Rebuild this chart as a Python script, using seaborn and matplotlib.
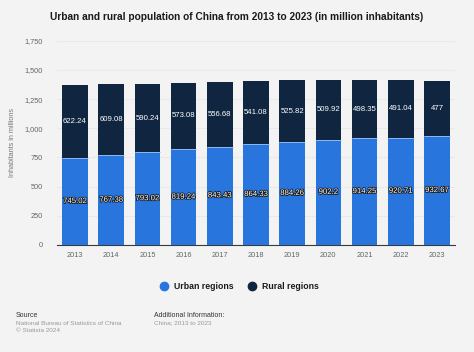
import numpy as np
import pandas as pd
import seaborn as sns
import matplotlib.pyplot as plt
import matplotlib.patheffects as pe
from matplotlib.lines import Line2D
from matplotlib.ticker import FuncFormatter

# data
years = ['2013', '2014', '2015', '2016', '2017', '2018', '2019', '2020', '2021', '2022', '2023']
urban = [745.02, 767.38, 793.02, 819.24, 843.43, 864.33, 884.26, 902.2, 914.25, 920.71, 932.67]
rural = [622.24, 609.08, 590.24, 573.08, 556.68, 541.08, 525.82, 509.92, 498.35, 491.04, 477]
y_ticks = [0, 250, 500, 750, 1000, 1250, 1500, 1750]

df = pd.DataFrame({'year': years, 'urban': urban, 'rural': rural})
df['total'] = df['urban'] + df['rural']

c_urban = '#2876dd'
c_rural = '#0f2540'
bg = '#f3f3f3'

sns.set_style('white')
plt.rcParams['font.family'] = ['Liberation Sans', 'DejaVu Sans']

fig = plt.figure(figsize=(4.74, 3.52), dpi=100, facecolor=bg)
ax = fig.add_axes([0.120, 0.304, 0.840, 0.580])
ax.set_facecolor(bg)

sns.barplot(data=df, x='year', y='total', color=c_rural, width=0.71,
            saturation=1, linewidth=0, ax=ax, zorder=2)
sns.barplot(data=df, x='year', y='urban', color=c_urban, width=0.71,
            saturation=1, linewidth=0, ax=ax, zorder=3)

# thin light seam between the segments
ax.hlines(df['urban'], np.arange(len(years)) - 0.355, np.arange(len(years)) + 0.355,
          color='#8fb8ee', lw=0.7, zorder=4)

stroke = [pe.withStroke(linewidth=1.2, foreground='#1a1a1a')]
for i, row in df.iterrows():
    ax.text(i, row['urban'] / 2, f"{row['urban']:g}", ha='center', va='center',
            color='white', fontsize=5.6, path_effects=stroke, zorder=5)
    ax.text(i, row['urban'] + row['rural'] / 2, f"{row['rural']:g}", ha='center',
            va='center', color='white', fontsize=5.6, zorder=5)

ax.set_ylim(0, 1750)
ax.set_xlim(-0.5, len(years) - 0.5)
ax.set_yticks(y_ticks)
ax.yaxis.set_major_formatter(FuncFormatter(lambda v, p: f'{int(v):,}'))
ax.grid(axis='y', color='#e9e9e9', lw=0.8, zorder=0)
ax.set_axisbelow(True)
sns.despine(ax=ax, left=True, top=True, right=True)
ax.spines['bottom'].set_color('#3a3a3a')
ax.spines['bottom'].set_linewidth(0.8)
ax.tick_params(axis='both', length=0, labelsize=5.3, labelcolor='#666666')
ax.tick_params(axis='x', pad=5)
ax.tick_params(axis='y', pad=10)
ax.set_xlabel('')
ax.set_ylabel('Inhabitants in millions', fontsize=5.2, color='#777777', labelpad=6)

fig.text(0.5, 0.952, 'Urban and rural population of China from 2013 to 2023 (in million inhabitants)',
         ha='center', va='center', fontsize=7.3, fontweight='bold', color='#1a1a1a')

handles = [Line2D([], [], marker='o', ls='', color=c_urban, markersize=6),
           Line2D([], [], marker='o', ls='', color=c_rural, markersize=6)]
fig.legend(handles, ['Urban regions', 'Rural regions'], loc='center',
           bbox_to_anchor=(0.5, 0.185), ncol=2, frameon=False, handletextpad=0.2,
           columnspacing=1.0, prop={'size': 6.3, 'weight': 'bold'}, labelcolor='#1a1a1a')

fig.text(0.034, 0.105, 'Source', fontsize=5, color='#333333', va='center')
fig.text(0.034, 0.082, 'National Bureau of Statistics of China', fontsize=4.6, color='#999999', va='center')
fig.text(0.034, 0.062, '\u00a9 Statista 2024', fontsize=4.6, color='#999999', va='center')
fig.text(0.325, 0.105, 'Additional Information:', fontsize=5, color='#333333', va='center')
fig.text(0.325, 0.082, 'China; 2013 to 2023', fontsize=4.6, color='#999999', va='center')

fig.savefig('out.png', dpi=100, facecolor=bg)
